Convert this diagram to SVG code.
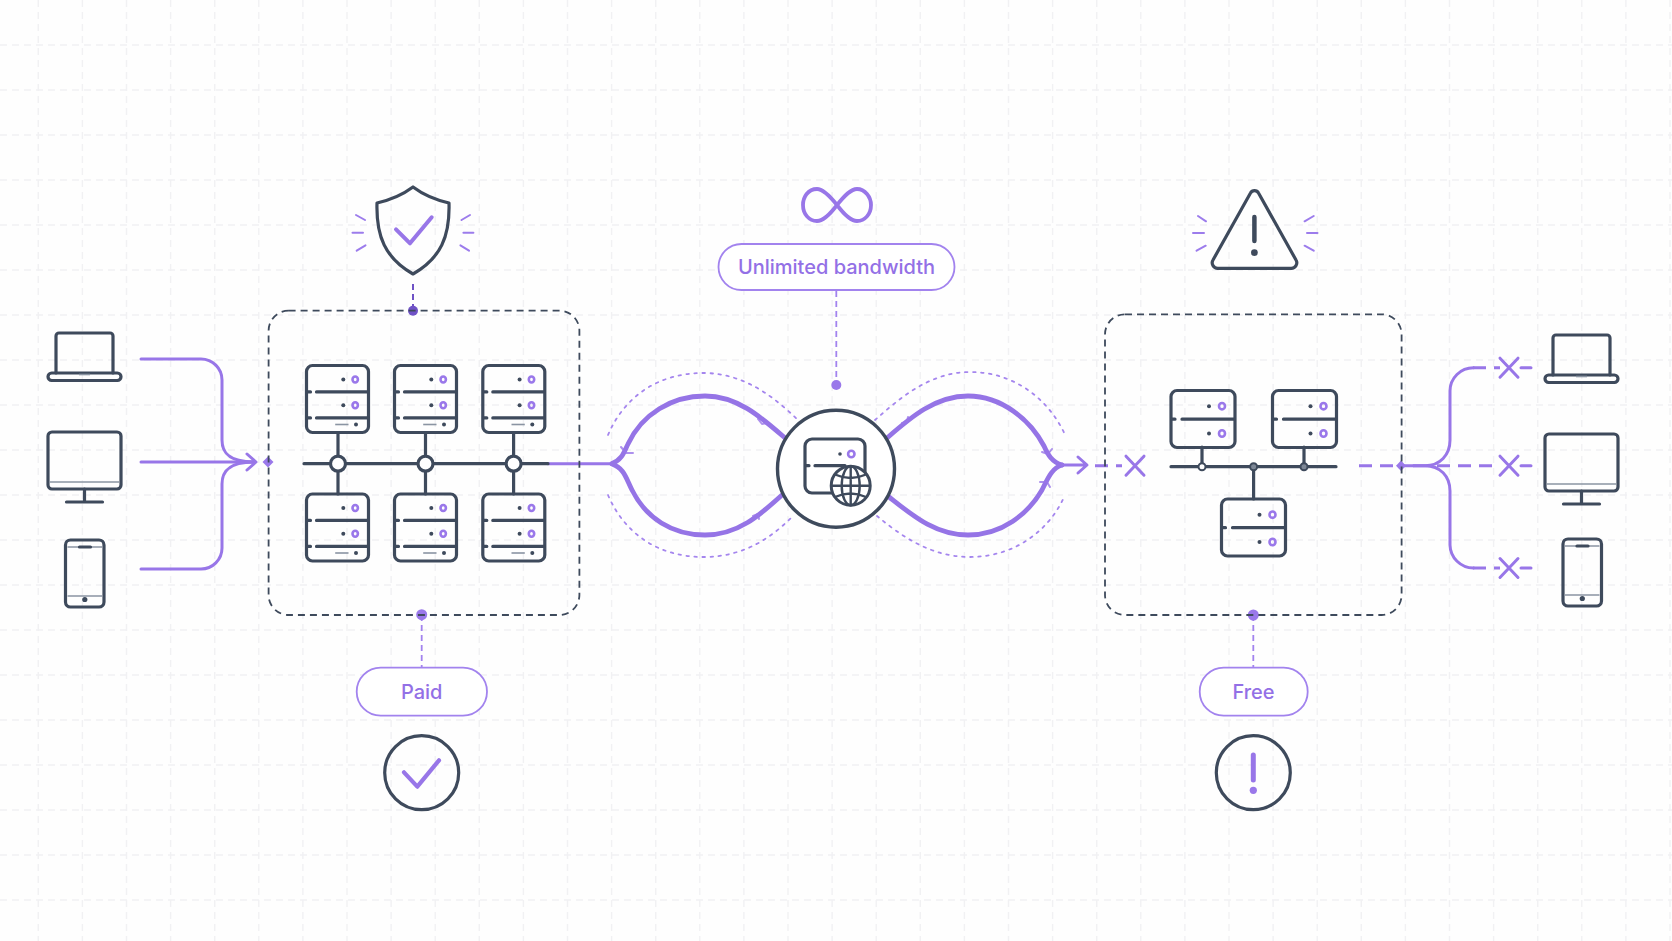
<svg xmlns="http://www.w3.org/2000/svg" width="1672" height="941" viewBox="0 0 1672 941">
<style>
.d{fill:none;stroke:#3e4a5c;stroke-width:3.2;stroke-linecap:round;stroke-linejoin:round}
.dw{fill:#fff;stroke:#3e4a5c;stroke-width:3.2}
.thin{fill:none;stroke:#8a94a2;stroke-width:1.6}
.p{fill:none;stroke:#9876e8;stroke-width:3;stroke-linecap:round;stroke-linejoin:round}
.pb{fill:none;stroke:#9574e6;stroke-width:4.8;stroke-linecap:round}
.pd{fill:none;stroke:#a586ee;stroke-width:1.8;stroke-dasharray:2.500 5.500;stroke-linecap:round}
.ld{fill:none;stroke:#a283ee;stroke-width:1.8;stroke-dasharray:6 4}
.dash{fill:none;stroke:#9876e8;stroke-width:3;stroke-dasharray:13 8}
.box{fill:none;stroke:#3e4a5c;stroke-width:1.8;stroke-dasharray:7 5}
.pill{fill:#fff;stroke:#a283ee;stroke-width:1.8}
.ring{fill:none;stroke:#9a78ea;stroke-width:2.600}
.dot{fill:#3e4a5c}
.pf{fill:#9a78ea}
.lb{font-family:Inter,"Liberation Sans",sans-serif;font-weight:500;font-size:20px;fill:#9370e6;text-anchor:middle}
.ray{fill:none;stroke:#9c7cec;stroke-width:2;stroke-linecap:round}
.grid{stroke:#f1f1f3;stroke-width:1.4;stroke-dasharray:7 5;fill:none}
</style>
<defs>
<g id="srv3">
<rect class="d" x="0" y="0" width="62" height="67" rx="6"/>
<path class="d" d="M1 26.4H4M10 26.4H61M1 52.4H4M10 52.4H61"/>
<circle class="dot" cx="36.8" cy="14" r="2"/><ellipse class="ring" cx="48.7" cy="14" rx="2.700" ry="3"/>
<circle class="dot" cx="36.8" cy="39.7" r="2"/><ellipse class="ring" cx="48.7" cy="39.7" rx="2.700" ry="3"/>
<path class="thin" d="M28.7 59H42"/><circle class="dot" cx="49.5" cy="59" r="2"/>
</g>
<g id="srv2">
<rect class="d" x="0" y="0" width="64" height="57" rx="6"/>
<path class="d" d="M1 28.7H4M11 28.7H63"/>
<circle class="dot" cx="38" cy="15.7" r="2"/><ellipse class="ring" cx="51" cy="15.7" rx="3" ry="3.200"/>
<circle class="dot" cx="38" cy="43" r="2"/><ellipse class="ring" cx="51" cy="43" rx="3" ry="3.200"/>
</g>
<g id="laptop">
<path class="d" d="M8 40V3a3 3 0 0 1 3-3H62a3 3 0 0 1 3 3V40"/>
<rect class="d" x="0" y="40" width="73" height="7.5" rx="3.7"/>
<path class="thin" d="M31 41.500H42"/>
</g>
<g id="monitor">
<rect class="d" x="0" y="0" width="73" height="57" rx="4"/>
<path class="thin" d="M2 50H71"/>
<path class="d" d="M36.500 57V70M18.500 70H54.500"/>
</g>
<g id="phone">
<rect class="d" x="0" y="0" width="38.500" height="67" rx="5"/>
<path class="thin" d="M2 7H36.500M2 56H36.500"/>
<path class="d" d="M14 7H25"/>
<circle class="dot" cx="19.300" cy="59.500" r="2.600"/>
</g>
<path id="x" class="p" d="M-9 -9.500L9 9.500M9 -9.500L-9 9.500"/>
</defs>
<rect width="1672" height="941" fill="#fefefe"/>
<g id="grid">
<path class="grid" d="M38.300 0V941M82.400 0V941M126.500 0V941M170.600 0V941M214.700 0V941M258.800 0V941M302.900 0V941M347 0V941M391.100 0V941M435.200 0V941M479.300 0V941M523.400 0V941M567.500 0V941M611.600 0V941M655.700 0V941M699.800 0V941M743.900 0V941M788 0V941M832.100 0V941M876.200 0V941M920.300 0V941M964.400 0V941M1008.500 0V941M1052.600 0V941M1096.700 0V941M1140.800 0V941M1184.900 0V941M1229 0V941M1273.100 0V941M1317.200 0V941M1361.300 0V941M1405.400 0V941M1449.500 0V941M1493.600 0V941M1537.700 0V941M1581.800 0V941M1625.900 0V941M1670 0V941"/>
<path class="grid" d="M0 45H1672M0 90H1672M0 135H1672M0 180H1672M0 225H1672M0 270H1672M0 315H1672M0 360H1672M0 405H1672M0 450H1672M0 495H1672M0 540H1672M0 585H1672M0 630H1672M0 675H1672M0 720H1672M0 765H1672M0 810H1672M0 855H1672M0 900H1672"/>
</g>
<g id="connectors">
<path class="p" d="M141 359H201A21 21 0 0 1 222 380V440C222 452 228 462 254 462"/>
<path class="p" d="M141 462H254"/>
<path class="p" d="M141 569H201A21 21 0 0 0 222 548V484C222 472 228 462 254 462"/>
<path class="p" d="M247 454L256 462L247 470"/>
<path class="pf" d="M262.500 462L268 456.500L273.500 462L268 467.500Z"/>
<path d="M413 284V311" fill="none" stroke="#6f52c6" stroke-width="2" stroke-dasharray="6 4"/>
<circle cx="413" cy="310.700" r="5" fill="#6f52c6"/>
<path class="ld" d="M421.700 615V668"/>
<circle class="pf" cx="421.700" cy="614.700" r="5.500"/>
<path class="ld" d="M836.300 291V385"/>
<circle class="pf" cx="836.300" cy="385" r="5"/>
<path class="ld" d="M1253.300 615V668"/>
<circle class="pf" cx="1253.300" cy="615" r="5.500"/>
<path class="p" d="M548 463.700H610"/>
<path class="pb" d="M612 463.500C622 460 624 452 628 444C642 414 672 396 705 396C738 396 762 418 785 438"/>
<path class="pb" d="M612 464C624 468 626 478 632 490C646 518 672 535 705 535C738 535 760 515 782 495"/>
<path class="pb" d="M887 438C910 418 935 396 968 396C1002 396 1030 420 1044 446C1048 455 1052 462 1062 465"/>
<path class="pb" d="M889 497C912 515 935 535 968 535C1002 535 1028 514 1042 490C1048 478 1052 468 1062 465"/>
<path class="p" d="M1062 465H1086M1078 457L1087 465L1078 473"/>
<path class="p" style="stroke-width:2;opacity:.8" d="M621 447L626 453L633 453M758 419L762 424L767 423M753 516L758 514L759 519M902 423L907 422L908 417M1042 452L1048 454L1052 449M1040 482L1047 482L1050 487"/>
<path class="pd" d="M608 435C625 395 660 373 703 373C745 373 775 398 798 420"/>
<path class="pd" d="M608 495C625 535 660 557 703 557C745 557 772 537 793 516"/>
<path class="pd" d="M875 420C900 398 930 372 970 372C1015 372 1050 400 1066 437"/>
<path class="pd" d="M877 516C900 535 930 557 970 557C1015 557 1050 530 1065 495"/>
<path class="dash" d="M1095 465.700H1122"/>
<path class="dash" d="M1359 465.700H1414"/>
<path class="pf" d="M1396 465.700L1401 460.500L1406 465.700L1401 471Z"/>
<path class="p" d="M1414 465.700H1425C1440 465.700 1450 455 1450 440V391A23.500 23.500 0 0 1 1473.500 367.700"/>
<path class="p" d="M1414 465.700H1425C1440 465.700 1450 476 1450 491V545A23.500 23.500 0 0 0 1473.500 568"/>
<path class="dash" d="M1437 465.700H1500"/>
<path class="dash" d="M1473 367.700H1500M1473 568H1500"/>
<path class="p" d="M1521 367.700H1531M1521 465.700H1531M1521 568H1531"/>
<use href="#x" x="1135" y="465.700"/>
<use href="#x" x="1509" y="367.700"/>
<use href="#x" x="1509" y="465.700"/>
<use href="#x" x="1509" y="568"/>
</g>
<g id="client-laptop"><use href="#laptop" x="48" y="333"/></g>
<g id="client-monitor"><use href="#monitor" x="48" y="432"/></g>
<g id="client-phone"><use href="#phone" x="65.500" y="540"/></g>
<g id="free-laptop"><use href="#laptop" x="1545" y="335"/></g>
<g id="free-monitor"><use href="#monitor" x="1545" y="434"/></g>
<g id="free-phone"><use href="#phone" x="1563" y="539"/></g>
<g id="paid-box">
<rect class="box" x="268.600" y="310.700" width="310.800" height="304.300" rx="20"/>
<path class="d" d="M304 463.700H548M338 433V494M425.500 433V494M513.600 433V494"/>
<circle class="dw" cx="338" cy="463.700" r="7.500"/><circle class="dw" cx="425.500" cy="463.700" r="7.500"/><circle class="dw" cx="513.600" cy="463.700" r="7.500"/>
<use href="#srv3" x="306.500" y="365.500"/><use href="#srv3" x="394.500" y="365.500"/><use href="#srv3" x="482.800" y="365.500"/>
<use href="#srv3" x="306.500" y="494"/><use href="#srv3" x="394.500" y="494"/><use href="#srv3" x="482.800" y="494"/>
</g>
<g id="free-box">
<rect class="box" x="1105" y="314.300" width="296.600" height="300.700" rx="20"/>
<path class="d" d="M1171 466.700H1336M1202 447V467M1304 447V467M1253.600 467V499"/>
<circle cx="1202" cy="466.700" r="3.500" fill="#fff" stroke="#3e4a5c" stroke-width="2"/><circle cx="1253.600" cy="466.700" r="3.500" fill="#7d8796" stroke="#3e4a5c" stroke-width="2"/><circle cx="1304" cy="466.700" r="3.500" fill="#7d8796" stroke="#3e4a5c" stroke-width="2"/>
<use href="#srv2" x="1171" y="390.500"/><use href="#srv2" x="1272.500" y="390.500"/><use href="#srv2" x="1221.500" y="499"/>
</g>
<g id="shield">
<path class="d" d="M413 187C401 196 390 200 377 203C376 236 385 258 413 274C441 258 450 236 449 203C436 200 425 196 413 187Z"/>
<path class="p" style="stroke-width:4" d="M396 229.300L410 243.300L431.700 217.300"/>
<path class="ray" d="M356 215L365 220M352.500 232.700H363M356.700 250.700L365.500 245.300M470 215L461.500 220M463.400 232.700H473.400M469 250.700L460.400 245.300"/>
</g>
<g id="warning">
<path class="d" d="M1250.500 193A4.500 4.500 0 0 1 1258.500 193L1296 260A5.500 5.500 0 0 1 1291 268.300H1218A5.500 5.500 0 0 1 1213 260Z"/>
<path class="d" style="stroke-width:4.500" d="M1254.400 217V241"/>
<circle class="dot" cx="1254.400" cy="252.700" r="3.400"/>
<path class="ray" d="M1198 216L1206 221.300M1193 233H1204M1196.600 250.700L1205.700 245.700M1313.700 216L1304.600 221.300M1307 233H1317.500M1313.700 250.700L1304.600 245.700"/>
</g>
<g id="infinity">
<path class="p" style="stroke-width:3.800" d="M837 205C829 195 822 189 817 189C808 189 803 197 803 205C803 214 809 221 817 221C824 221 831 213 837 205C845 195 851 189 857 189C865 189 871 197 871 205C871 214 865 221 857 221C850 221 843 213 837 205Z"/>
</g>
<g id="bandwidth-label">
<rect class="pill" x="718.500" y="244" width="236" height="46" rx="23"/>
<text class="lb" x="836.500" y="274">Unlimited bandwidth</text>
</g>
<g id="internet">
<circle cx="836" cy="468.700" r="58.500" fill="#fff" stroke="#3e4a5c" stroke-width="3.400"/>
<path class="d" d="M865 478V446A7 7 0 0 0 858 439H812A7 7 0 0 0 805 446V486A7 7 0 0 0 812 493H838"/>
<path class="d" d="M806 465.700H809M815 465.700H845"/>
<circle class="dot" cx="840" cy="454" r="1.800"/><circle class="ring" cx="851.300" cy="454" r="3.200"/>
<circle cx="850.700" cy="485.700" r="19.500" fill="#fff" stroke="#3e4a5c" stroke-width="3"/>
<ellipse cx="850.700" cy="485.700" rx="9" ry="19.500" fill="none" stroke="#3e4a5c" stroke-width="2.400"/>
<path d="M850.700 466.200V505.200M831.500 485.700H870M835 474.500C845 479 856 479 866 474.500M835 497C845 492.500 856 492.500 866 497" fill="none" stroke="#3e4a5c" stroke-width="2.400"/>
</g>
<g id="paid-label">
<rect class="pill" x="356.700" y="667.700" width="130.300" height="48" rx="24"/>
<text class="lb" x="421.700" y="699">Paid</text>
</g>
<g id="free-label">
<rect class="pill" x="1199.700" y="667.700" width="108" height="48" rx="24"/>
<text class="lb" x="1253.500" y="699">Free</text>
</g>
<g id="paid-status">
<circle class="d" cx="421.700" cy="772.700" r="37"/>
<path class="p" style="stroke-width:4.200" d="M404 772.300L417.300 786.700L439 760.300"/>
</g>
<g id="free-status">
<circle class="d" cx="1253.300" cy="772.700" r="37"/>
<path class="p" style="stroke-width:5" d="M1253.300 755V780"/>
<circle class="pf" cx="1253.300" cy="790.300" r="3.600"/>
</g>
</svg>
